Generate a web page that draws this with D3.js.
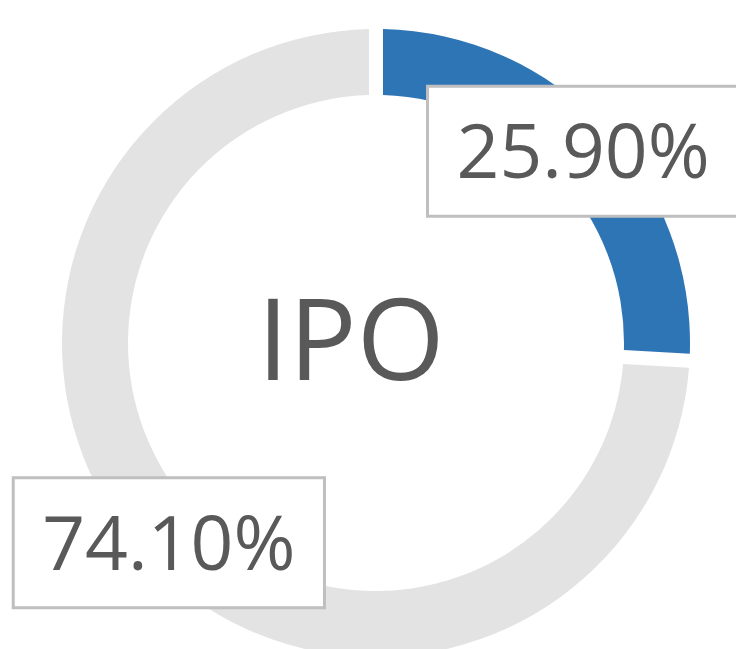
<!DOCTYPE html>
<html>
<head>
<meta charset="utf-8">
<script src="https://cdn.jsdelivr.net/npm/d3@7"></script>
<style>
  html, body { margin: 0; padding: 0; background: #fff; }
</style>
</head>
<body>
<div id="chart"></div>
<script>
// data
const categories = ["IPO", "Other"];
const values = [25.9, 74.1];
const labels = ["25.90%", "74.10%"];
const centerLabel = "IPO";
const colors = ["#2e75b6", "#e3e3e3"];

const width = 736, height = 649;
const cx = 376, cy = 343;
const outerR = 314, innerR = 248;

const svg = d3.select("#chart")
  .append("svg")
  .attr("width", width)
  .attr("height", height)
  .attr("viewBox", `0 0 ${width} ${height}`);

const g = svg.append("g").attr("transform", `translate(${cx},${cy})`);

const pie = d3.pie().sort(null).value((d) => d.value);
const arcs = pie(categories.map((c, i) => ({ name: c, value: values[i], label: labels[i] })));

const arc = d3.arc()
  .innerRadius(innerR)
  .outerRadius(outerR)
  .padRadius(300)
  .padAngle(14 / 300);

g.selectAll(".slice")
  .data(arcs)
  .enter()
  .append("path")
  .attr("class", "slice")
  .attr("d", arc)
  .style("fill", (d, i) => colors[i]);

// Center label
g.append("text")
  .attr("x", -25)
  .attr("y", 37)
  .attr("text-anchor", "middle")
  .style("font-family", "'Open Sans', sans-serif")
  .style("font-size", "113px")
  .style("fill", "#595959")
  .text(centerLabel);

// Data labels with boxes near arc centroids
const labelArc = d3.arc().innerRadius(285).outerRadius(285);
const labelG = g.selectAll(".dlabel")
  .data(arcs)
  .enter()
  .append("g")
  .attr("class", "dlabel")
  .attr("transform", (d) => {
    const [x, y] = labelArc.centroid(d);
    return `translate(${x},${y + 4})`;
  });

const rects = labelG.append("rect");
const texts = labelG.append("text")
  .attr("text-anchor", "middle")
  .attr("dy", "0.36em")
  .style("font-family", "'Open Sans', sans-serif")
  .style("font-size", "75px")
  .style("fill", "#595959")
  .text((d) => d.data.label);

texts.each(function (d, i) {
  const bb = this.getBBox();
  const padX = 29;
  d3.select(rects.nodes()[i])
    .attr("x", bb.x - padX)
    .attr("y", -65)
    .attr("width", bb.width + padX * 2)
    .attr("height", 130)
    .style("fill", "#fff")
    .style("stroke", "#bfbfbf")
    .style("stroke-width", 3);
});
</script>
</body>
</html>
